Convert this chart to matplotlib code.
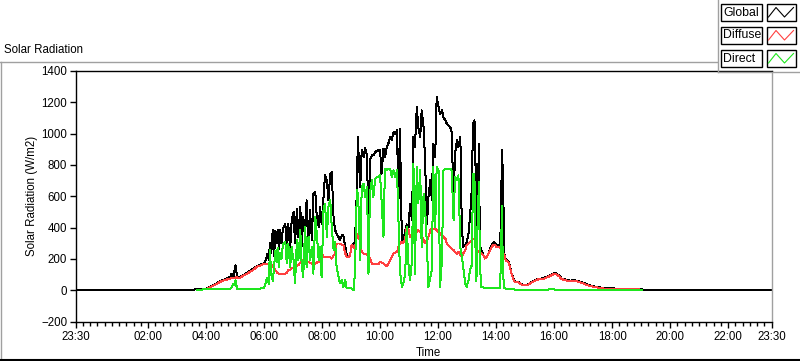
import numpy as np
import matplotlib
matplotlib.use('Agg')
import matplotlib.pyplot as plt
from matplotlib.lines import Line2D
from matplotlib.patches import Rectangle

plt.rcParams['font.family'] = ['Liberation Sans', 'DejaVu Sans']
plt.rcParams['font.size'] = 8.3

nan = np.nan

# Time in minutes after midnight, values in W/m2
minutes = [
    -30, 207, 221, 231, 241, 248, 255, 262, 269, 276,
    283, 290, 293, 297, 300, 301, 304, 307, 310, 317,
    324, 331, 338, 345, 352, 359, 362, 364, 367, 370,
    372, 375, 378, 381, 383, 386, 388, 391, 393, 396,
    399, 401, 404, 407, 410, 414, 417, 421, 424, 428,
    431, 435, 438, 441, 445, 448, 452, 455, 459, 462,
    466, 469, 473, 476, 479, 483, 486, 490, 493, 497,
    500, 504, 507, 510, 514, 517, 521, 524, 528, 531,
    535, 538, 541, 545, 548, 552, 554, 556, 559, 562,
    566, 569, 573, 576, 579, 583, 586, 590, 593, 597,
    600, 603, 607, 610, 614, 617, 621, 624, 628, 631,
    635, 638, 641, 645, 648, 652, 655, 659, 662, 666,
    669, 672, 676, 679, 683, 686, 690, 693, 697, 700,
    704, 707, 710, 714, 717, 721, 724, 728, 731, 735,
    738, 741, 745, 748, 752, 755, 759, 762, 766, 769,
    772, 776, 779, 783, 786, 790, 792, 795, 797, 798,
    800, 802, 805, 806, 809, 814, 817, 821, 824, 828,
    831, 835, 838, 841, 845, 848, 850, 852, 854, 857,
    859, 862, 866, 869, 872, 876, 879, 886, 893, 900,
    907, 914, 921, 928, 934, 941, 948, 955, 962, 969,
    976, 983, 993, 1000, 1007, 1014, 1021, 1027, 1034, 1041,
    1048, 1055, 1062, 1069, 1083, 1110, 1141, 1148, 1410,
]

global_rad = [
    0, 0, 6, 6, 11, 21, 32, 43, 57, 66,
    74, 85, 106, 85, 150, 159, 90, 78, 85, 96,
    110, 123, 138, 153, 162, 170, 178, 200, 230, 190,
    300, 240, 387, 220, 380, 300, 385, 260, 383, 300,
    395, 405, 425, 255, 420, 260, 440, 500, 300, 521,
    340, 531, 280, 468, 350, 574, 300, 510, 320, 616,
    627, 468, 404, 531, 425, 595, 733, 700, 574, 744,
    755, 446, 383, 361, 340, 319, 351, 351, 276, 223,
    213, 220, 287, 298, 308, 638, 978, 829, 659, 893,
    850, 910, 861, 359, 829, 861, 861, 882, 889, 893,
    893, 744, 904, 850, 914, 935, 978, 957, 1010, 999,
    1020, 574, 1031, 319, 310, 383, 420, 404, 553, 446,
    978, 914, 1169, 1042, 978, 1148, 1042, 829, 425, 595,
    702, 574, 935, 850, 1233, 1169, 1127, 1148, 1105, 1084,
    1063, 1052, 1042, 1010, 574, 871, 957, 914, 978, 404,
    276, 287, 308, 361, 468, 659, 1063, 1084, 1052, 319,
    806, 574, 934, 298, 255, 223, 202, 213, 234, 266,
    287, 308, 298, 287, 287, 276, 446, 897, 744, 234,
    202, 191, 181, 149, 106, 74, 53, 53, 38, 32,
    38, 53, 64, 74, 74, 81, 89, 102, 111, 96,
    74, 68, 60, 64, 60, 53, 47, 38, 30, 25,
    21, 17, 13, 11, 11, 8, 6, 0, 0,
]

diffuse_rad = [
    nan, nan, 0, 4, 8, 17, 30, 40, 53, 62,
    68, 74, 76, 78, 80, 80, 82, 76, 80, 92,
    104, 117, 130, 149, 157, 166, 166, 166, 165, 163,
    162, 160, 155, 140, 128, 117, 110, 106, 106, 106,
    106, 106, 106, 110, 128, 130, 138, 140, 149, 155,
    159, 175, 191, 191, 191, 185, 181, 176, 170, 170,
    170, 176, 181, 200, 234, 215, 213, 213, 213, 210,
    202, 223, 234, 298, 298, 298, 290, 287, 234, 213,
    213, 220, 287, 276, 266, 361, 340, 330, 320, 244,
    234, 234, 223, 213, 202, 170, 166, 166, 166, 166,
    181, 176, 170, 160, 153, 170, 191, 210, 234, 240,
    244, 276, 298, 308, 300, 330, 404, 383, 340, 340,
    340, 361, 372, 383, 372, 350, 319, 300, 319, 340,
    383, 393, 393, 393, 383, 372, 361, 351, 340, 330,
    298, 287, 276, 266, 255, 244, 234, 244, 223, 213,
    234, 255, 287, 298, 308, 319, 325, 330, 319, 300,
    266, 250, 244, 240, 234, 223, 202, 213, 234, 255,
    276, 290, 287, 276, 276, 270, 266, 255, 240, 223,
    196, 185, 176, 145, 102, 70, 50, 50, 36, 30,
    36, 50, 60, 70, 70, 76, 85, 96, 106, 92,
    70, 64, 56, 60, 56, 50, 43, 34, 27, 22,
    18, 14, 11, 8, 8, 6, 4, nan, nan,
]

direct_rad = [
    nan, nan, 0, 4, 6, 6, 8, 6, 8, 8,
    8, 10, 20, 40, 30, 64, 8, 6, 6, 6,
    10, 8, 8, 8, 10, 13, 30, 60, 80, 40,
    255, 100, 60, 150, 250, 180, 270, 150, 240, 200,
    290, 300, 308, 170, 298, 149, 276, 191, 43, 319,
    191, 383, 149, 85, 404, 149, 340, 191, 276, 106,
    466, 361, 191, 276, 85, 510, 553, 340, 531, 574,
    404, 255, 308, 149, 85, 43, 64, 21, 64, 11,
    11, 11, 11, 0, 106, 638, 616, 500, 191, 659,
    680, 595, 659, 106, 616, 702, 595, 712, 720, 723,
    733, 574, 340, 776, 765, 776, 776, 723, 765, 723,
    765, 446, 128, 21, 43, 106, 404, 149, 64, 191,
    808, 106, 787, 553, 765, 276, 616, 531, 276, 21,
    85, 128, 787, 404, 787, 765, 21, 191, 765, 776,
    776, 776, 776, 765, 446, 723, 702, 733, 276, 213,
    149, 43, 21, 64, 128, 162, 744, 744, 383, 60,
    100, 510, 691, 200, 21, 17, 17, 13, 13, 13,
    13, 13, 13, 13, 13, 11, 191, 535, 106, 11,
    11, 8, 8, 6, 6, 6, 4, 4, 2, 2,
    2, 2, 2, 2, 4, 4, 4, 6, 4, 4,
    4, 4, 4, 4, 4, 4, 4, 4, 4, 4,
    4, 4, 0, 0, 0, 0, 0, nan, nan,
]

series_names = ['Global', 'Diffuse', 'Direct']
series_colors = ['#000000', '#ff4040', '#1ee61e']

hours = np.array(minutes) / 60.0

W, H = 800, 361
def fx(px):
    return px / W
def fy(py):
    return 1 - py / H

fig = plt.figure(figsize=(W / 100, H / 100), dpi=100)
fig.patch.set_facecolor('white')

ax = fig.add_axes([fx(75.5), fy(321.5), (771.7 - 75.5) / W, (321.5 - 70.9) / H])

for vals, col in zip([global_rad, diffuse_rad, direct_rad], series_colors):
    ax.plot(hours, vals, color=col, lw=0.72, antialiased=False)

ax.set_xlim(-0.5, 23.5)
ax.set_ylim(-200, 1400)
ax.set_yticks(np.arange(-200, 1401, 200))

major = [-0.5] + list(range(2, 23, 2)) + [23.5]
labels = ['23:30'] + ['%02d:00' % h for h in range(2, 23, 2)] + ['23:30']
ax.set_xticks(major)
ax.set_xticklabels(labels)
ax.set_xticks(np.arange(-0.5, 23.51, 0.25), minor=True)

ax.tick_params(axis='y', which='major', direction='out', length=4, width=1,
               color='black', pad=2, labelsize=8.3)
ax.tick_params(axis='x', which='major', direction='out', length=4.5, width=1,
               color='black', pad=2, labelsize=8.3)
ax.tick_params(axis='x', which='minor', direction='out', length=2.8, width=1,
               color='black')

for side in ['left', 'top', 'bottom']:
    ax.spines[side].set_color('black')
    ax.spines[side].set_linewidth(1)
ax.spines['right'].set_color('#a0a0a0')
ax.spines['right'].set_linewidth(1)

# labels
fig.text(fx(32), fy(196), 'Solar Radiation (W/m2)', rotation=90,
         ha='center', va='center')
fig.text(fx(428), fy(353), 'Time', ha='center', va='center')
fig.text(fx(4), fy(50), 'Solar Radiation', ha='left', va='center')

# outer frame
def fline(xs, ys, color, lw):
    fig.add_artist(Line2D([fx(x) for x in xs], [fy(y) for y in ys],
                          color=color, lw=lw, transform=fig.transFigure))

fline([0, 717], [62, 62], '#a0a0a0', 1)
fline([0.5, 0.5], [62, 359], '#a0a0a0', 1)
fline([0, 800], [359.5, 359.5], 'black', 1.5)

# legend panel
fline([717.5, 717.5], [0, 72], '#a0a0a0', 1)
fline([717.5, 800], [72, 72], '#a0a0a0', 1)

box_tops = [4, 27, 50]
for name, col, top in zip(series_names, series_colors, box_tops):
    fig.add_artist(Rectangle((fx(721), fy(top + 16.5)), (762 - 721) / W, 16.5 / H,
                             facecolor='white', edgecolor='black', lw=1,
                             transform=fig.transFigure))
    fig.text(fx(723), fy(top + 8.5), name, ha='left', va='center', fontsize=8.8)
    fig.add_artist(Rectangle((fx(767), fy(top + 16.5)), (796 - 767) / W, 16.5 / H,
                             facecolor='white', edgecolor='black', lw=1,
                             transform=fig.transFigure))
    zx = [768.5, 776, 784.5, 793.5]
    zy = [top + 13, top + 3.5, top + 13, top + 3.5]
    fline(zx, zy, col, 0.8)

fig.savefig('out.png', dpi=100, facecolor='white')
